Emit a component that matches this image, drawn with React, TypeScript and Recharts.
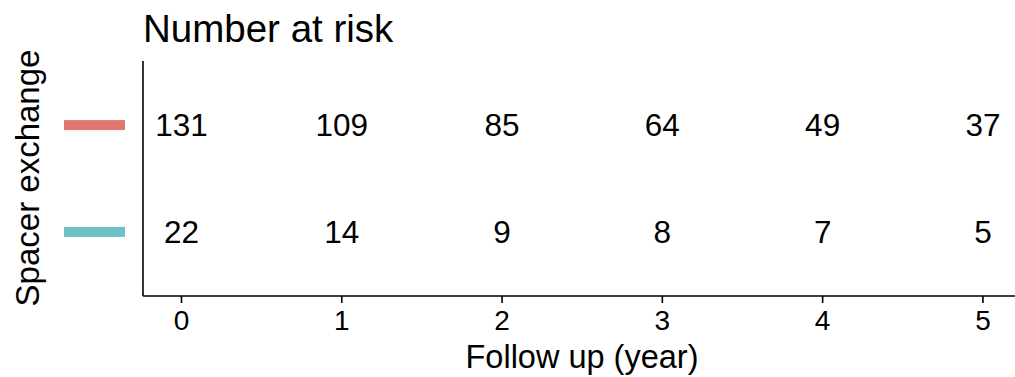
import React from 'react';
import { ScatterChart, Scatter, XAxis, YAxis, Customized } from 'recharts';

const years = [0, 1, 2, 3, 4, 5];
const groupNames = ['Group 1', 'Group 2'];
const groupRows = [2, 1];
const groupColors = ['#E0766F', '#6BC1C6'];
const atRiskGroup1 = [131, 109, 85, 64, 49, 37];
const atRiskGroup2 = [22, 14, 9, 8, 7, 5];

const FONT = '"Liberation Sans", Arial, Helvetica, sans-serif';

const data1 = years.map((x, i) => ({ x, y: groupRows[0], n: atRiskGroup1[i] }));
const data2 = years.map((x, i) => ({ x, y: groupRows[1], n: atRiskGroup2[i] }));

const NumberShape = (props: any) => {
  const { cx, cy, payload } = props;
  return (
    <text x={cx} y={cy + 31.5 * 0.355} textAnchor="middle" fontSize={31.5} fontFamily={FONT} fill="#000">
      {payload.n}
    </text>
  );
};

const LegendTick = (props: any) => {
  const { x, y, payload } = props;
  const idx = groupRows.indexOf(payload.value);
  if (idx < 0) return null;
  return <rect x={x - 61} y={y - 5} width={61} height={10} fill={groupColors[idx]} />;
};

const Titles = () => (
  <g>
    <text x={143} y={42} fontSize={38.5} fontFamily={FONT} fill="#000">Number at risk</text>
    <text x={582} y={368} fontSize={32.5} fontFamily={FONT} fill="#000" textAnchor="middle">Follow up (year)</text>
    <text x={39} y={178} fontSize={33} fontFamily={FONT} fill="#000" textAnchor="middle" transform="rotate(-90, 39, 178)">Spacer exchange</text>
  </g>
);

export default function App() {
  return (
    <div style={{ position: 'absolute', left: 0, top: 0, width: 1015, height: 377, background: '#fff' }}>
      <ScatterChart width={1015} height={377} margin={{ top: 61, right: 0, bottom: 0, left: 0 }}>
        <XAxis
          type="number"
          dataKey="x"
          domain={[-0.24, 5.2]}
          ticks={years}
          allowDataOverflow
          height={81}
          axisLine={{ stroke: '#000', strokeWidth: 1.6 }}
          tickLine={{ stroke: '#000', strokeWidth: 1.6 }}
          tickSize={7}
          tickMargin={7}
          tick={{ fontSize: 28, fontFamily: FONT, fill: '#000' }}
        />
        <YAxis
          type="number"
          dataKey="y"
          domain={[0.4, 2.6]}
          ticks={groupRows}
          allowDataOverflow
          width={143}
          axisLine={{ stroke: '#000', strokeWidth: 1.6 }}
          tickLine={false}
          tickSize={0}
          tickMargin={18}
          tick={<LegendTick />}
        />
        <Scatter name={groupNames[0]} data={data1} shape={<NumberShape />} isAnimationActive={false} />
        <Scatter name={groupNames[1]} data={data2} shape={<NumberShape />} isAnimationActive={false} />
        <Customized component={<Titles />} />
      </ScatterChart>
    </div>
  );
}
